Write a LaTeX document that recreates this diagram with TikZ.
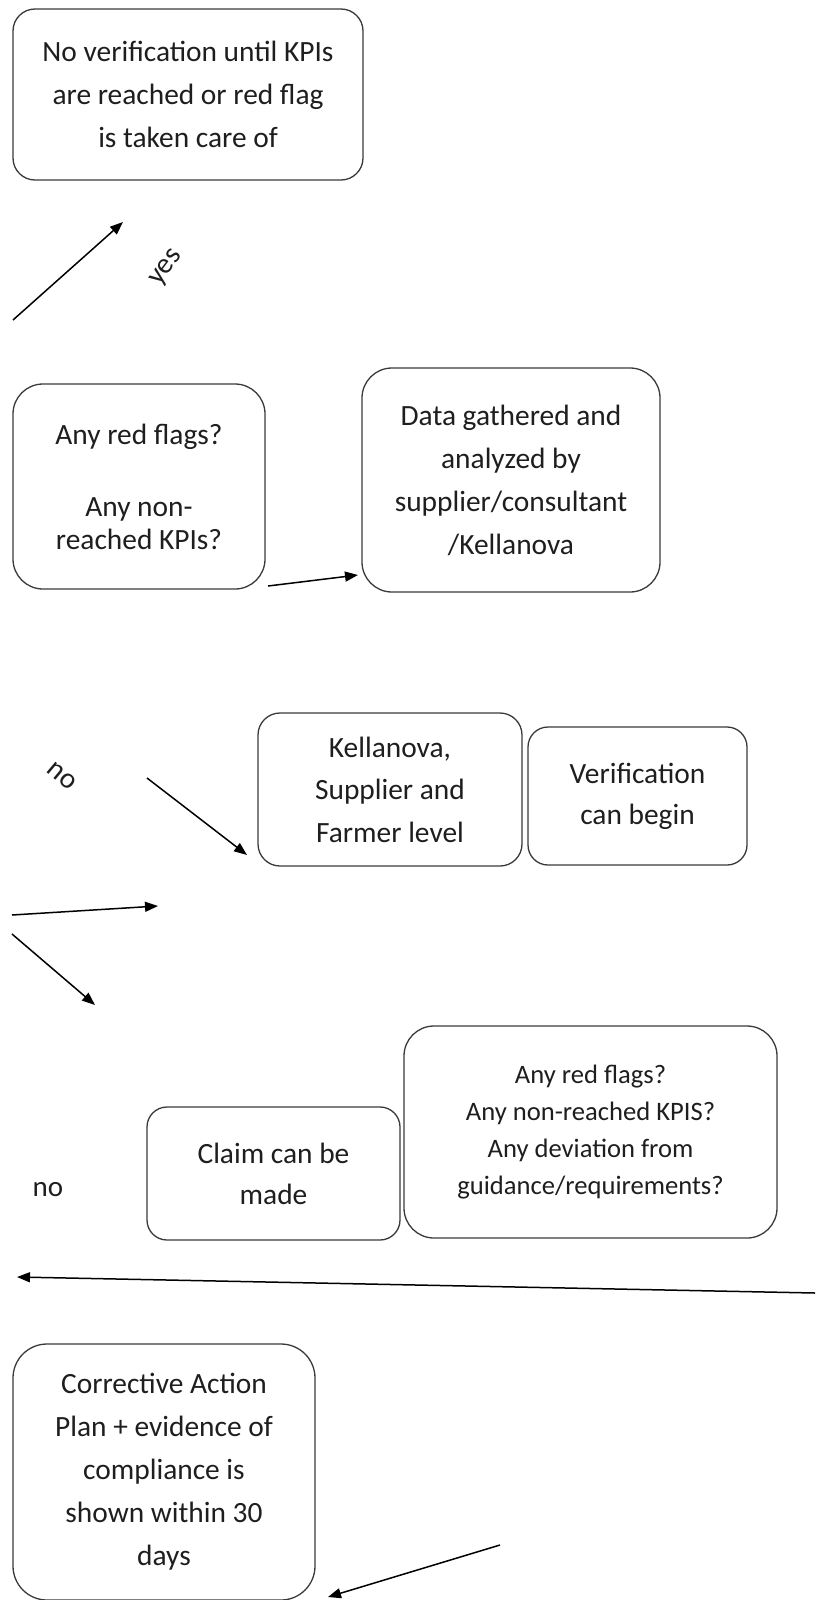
\documentclass[tikz,border=0pt]{standalone}
\usepackage{fontspec}
\setmainfont{Carlito}
\usetikzlibrary{arrows.meta,positioning}
\definecolor{edge}{HTML}{3A3A3A}
\definecolor{txt}{HTML}{1E1E1E}
\tikzset{procbox/.style={draw=edge,line width=.65pt,inner sep=0pt,align=center,text=txt,font=\fontsize{14.7}{21.5}\selectfont},flowline/.style={->,line width=.75pt,black},edgetag/.style={text=txt,font=\fontsize{14.5}{17}\selectfont,inner sep=0pt}}

\begin{document}
\begin{tikzpicture}[x=.5pt,y=-.5pt,>={Triangle[length=6.5pt,width=5pt]}]
\useasboundingbox (0,0) rectangle (815,1600);
\node[procbox,rounded corners=11pt,minimum width=175pt,minimum height=85.5pt] (noverif) at (188,94.5) {No verification until KPIs\\are reached or red flag\\is taken care of};
\node[procbox,rounded corners=15pt,minimum width=126pt,minimum height=102.5pt,font=\fontsize{14.7}{16.5}\selectfont] (redflags) at (139,486.5) {Any red flags?\\[19.5pt]Any non-\\reached KPIs?};
\node[procbox,rounded corners=15pt,minimum width=149pt,minimum height=112pt] (gathered) at (511,480) {Data gathered and\\analyzed by\\supplier/consultant\\/Kellanova};
\node[procbox,rounded corners=11pt,minimum width=132pt,minimum height=76.5pt,font=\fontsize{14.7}{21.25}\selectfont] (levels) at (390,789.5) {Kellanova,\\Supplier and\\Farmer level};
\node[procbox,rounded corners=10pt,minimum width=109.5pt,minimum height=69pt,font=\fontsize{14.7}{20.5}\selectfont] (canbegin) at (637.5,796) {Verification\\can begin};
\node[procbox,rounded corners=10pt,minimum width=126.5pt,minimum height=66.5pt,font=\fontsize{14.7}{20.5}\selectfont] (claim) at (273.5,1173.5) {Claim can be\\made};
\node[procbox,rounded corners=15pt,minimum width=186.5pt,minimum height=106pt,font=\fontsize{13.3}{18.5}\selectfont] (deviation) at (590.5,1132) {Any red flags?\\Any non-reached KPIS?\\Any deviation from\\guidance/requirements?};
\node[procbox,rounded corners=17pt,minimum width=151pt,minimum height=128pt] (corrective) at (164,1472) {Corrective Action\\Plan + evidence of\\compliance is\\shown within 30\\days};

\node[edgetag,rotate=53] (yeslbl) at (167,268) {yes};
\node[edgetag,rotate=-40] (nolbl) at (62,776) {no};
\node[edgetag] (nolow) at (48,1190) {no};

\coordinate (yesA) at (13,320);
\coordinate (yesB) at (123,222);
\coordinate (rdA) at (268,586);
\coordinate (rdB) at (358,575);
\coordinate (noA) at (147,778);
\coordinate (noB) at (247,855);
\coordinate (midA) at (12,915);
\coordinate (midB) at (158,906);
\coordinate (lowA) at (12,934);
\coordinate (lowB) at (95,1005);
\coordinate (backA) at (815,1293);
\coordinate (backB) at (17,1277);
\coordinate (lastA) at (500,1545);
\coordinate (lastB) at (328,1597);

\draw[flowline] (yesA) -- (yesB);
\draw[flowline] (rdA) -- (rdB);
\draw[flowline] (noA) -- (noB);
\draw[flowline] (midA) -- (midB);
\draw[flowline] (lowA) -- (lowB);
\draw[flowline] (backA) -- (backB);
\draw[flowline] (lastA) -- (lastB);
\end{tikzpicture}
\end{document}
